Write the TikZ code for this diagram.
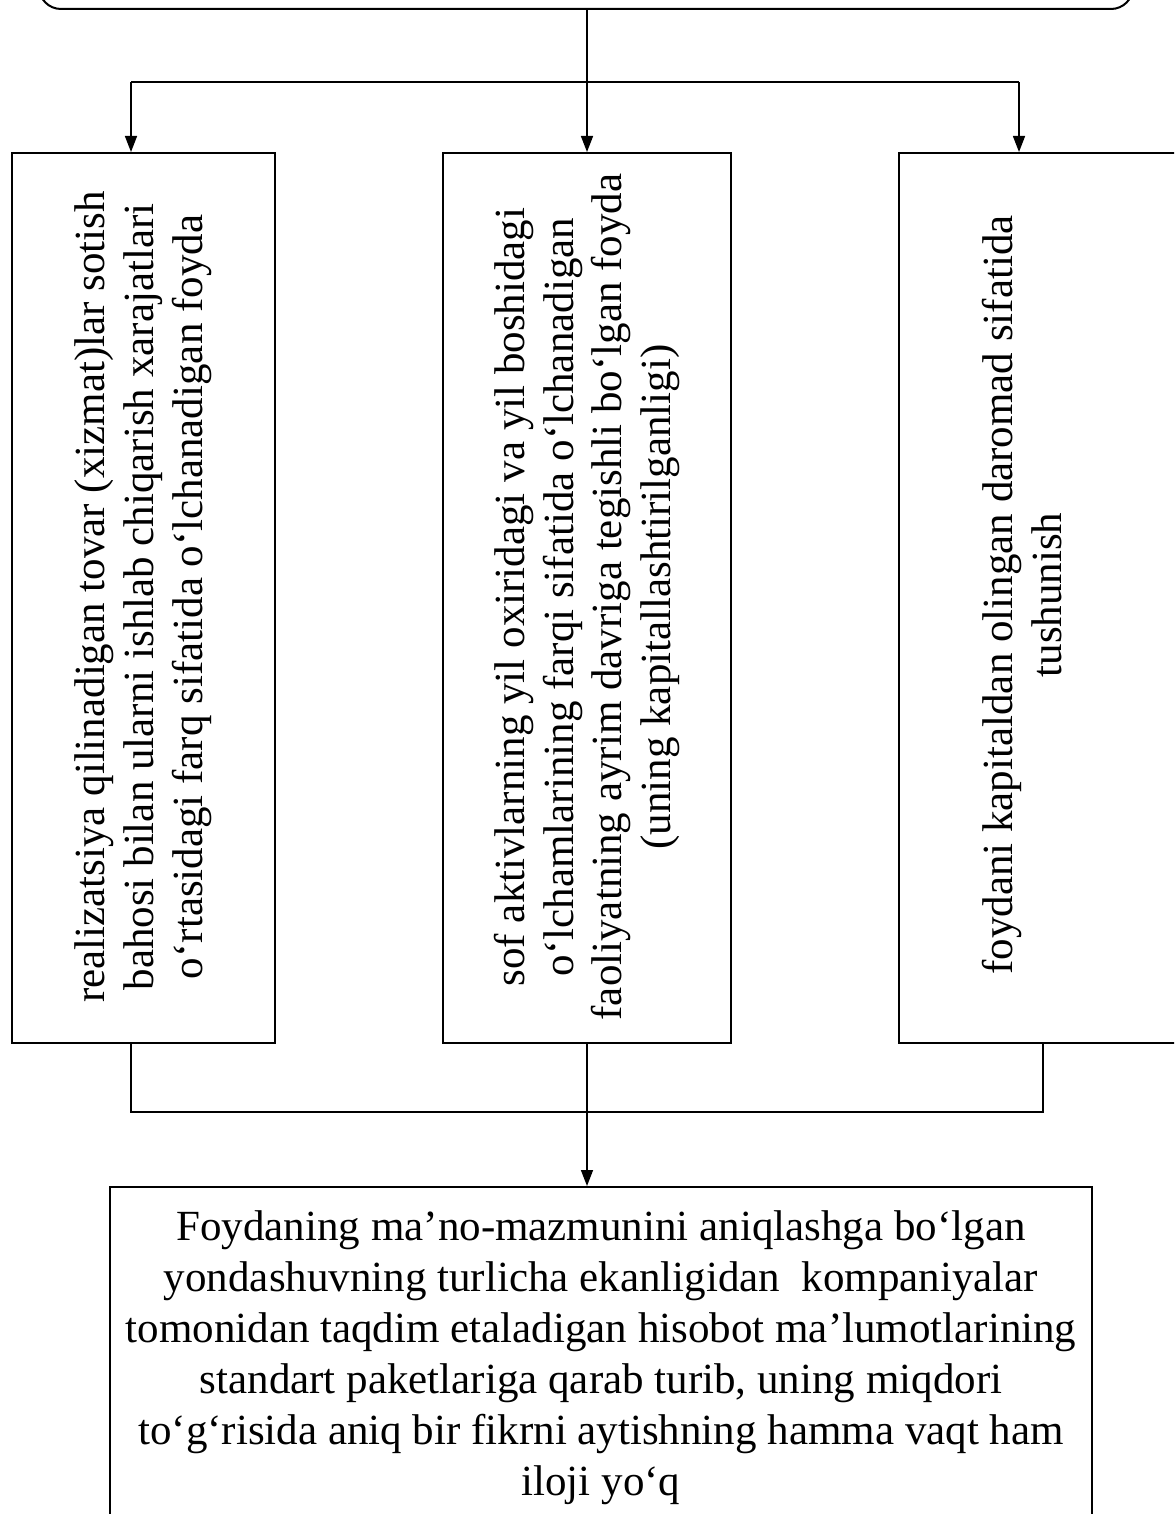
\documentclass[tikz,border=0pt]{standalone}
\usepackage{fontspec}
\setmainfont{Liberation Serif}
\usetikzlibrary{arrows.meta}
\begin{document}
\begin{tikzpicture}[x=0.5pt,y=-0.5pt,
  boxstyle/.style={draw, line width=1pt, inner sep=0pt, minimum width=#1},
  txt/.style={font=\fontsize{21.5pt}{24.4pt}\selectfont, inner sep=0pt, align=center},
  btxt/.style={font=\fontsize{21.5pt}{25.5pt}\selectfont, inner sep=0pt, align=center},
  conn/.style={line width=0.75pt},
  arr/.style={conn, -{Triangle[length=8pt,width=6pt]}}]
\useasboundingbox (0,0) rectangle (1174,1514);
\clip (0,0) rectangle (1174,1514);
% top rounded box (cut off)
\node[draw, line width=1pt, rounded corners=11pt, minimum width=547pt, minimum height=150pt, inner sep=0pt, anchor=south] (top) at (586,10) {};
% three vertical boxes
\node[boxstyle=131.5pt, minimum height=445pt] (b1) at (143.5,598) {};
\node[boxstyle=144pt, minimum height=445pt] (b2) at (587,598) {};
\node[boxstyle=144pt, minimum height=445pt] (b3) at (1043,598) {};
% rotated texts
\node[txt, rotate=90] (t1) at (143,597) {realizatsiya qilinadigan tovar (xizmat)lar sotish\\bahosi bilan ularni ishlab chiqarish xarajatlari\\o‘rtasidagi farq sifatida o‘lchanadigan foyda};
\node[txt, rotate=90] (t2) at (587,597) {sof aktivlarning yil oxiridagi va yil boshidagi\\o‘lchamlarining farqi sifatida o‘lchanadigan\\faoliyatning ayrim davriga tegishli bo‘lgan foyda\\(uning kapitallashtirilganligi)};
\node[txt, rotate=90] (t3) at (1022,595) {foydani kapitaldan olingan daromad sifatida\\tushunish};
% bottom box (cut off)
\node[draw, line width=1pt, minimum width=491pt, minimum height=250pt, inner sep=0pt, anchor=north] (bot) at (601,1186) {};
\node[btxt, anchor=north] (t4) at (601,1210) {Foydaning ma’no-mazmunini aniqlashga bo‘lgan\\yondashuvning turlicha ekanligidan~ kompaniyalar\\tomonidan taqdim etaladigan hisobot ma’lumotlarining\\standart paketlariga qarab turib, uning miqdori\\to‘g‘risida aniq bir fikrni aytishning hamma vaqt ham\\iloji yo‘q};
% upper connectors
\coordinate (fl) at (131,82);
\coordinate (fm) at (587,82);
\coordinate (fr) at (1019,82);
\draw[arr] (top.south -| fm) -- (b2.north);
\draw[conn] (fl) -- (fr);
\draw[arr] (fl) -- (b1.north -| fl);
\draw[arr] (fr) -- (b3.north -| fr);
% lower connectors
\coordinate (jl) at (131,1112);
\coordinate (jr) at (1043,1112);
\draw[conn] (b1.south -| jl) -- (jl) -- (jr) -- (b3.south -| jr);
\draw[arr] (b2.south) -- (bot.north -| b2.south);
\end{tikzpicture}
\end{document}
